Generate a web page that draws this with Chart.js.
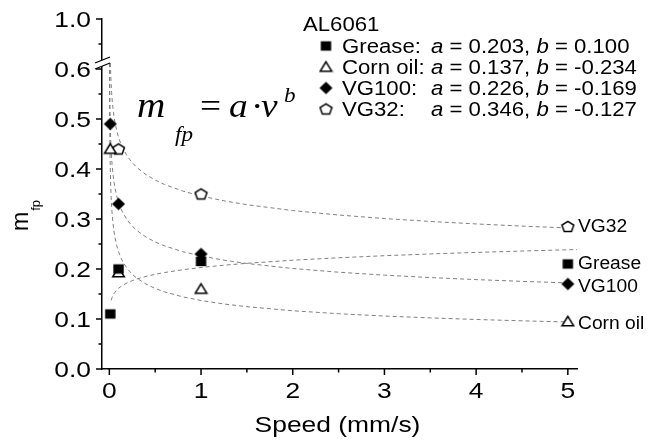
<!DOCTYPE html>
<html>
<head>
<meta charset="utf-8">
<title>AL6061 m_fp vs speed</title>
<script src="https://cdn.jsdelivr.net/npm/chart.js@4.4.1/dist/chart.umd.min.js"></script>
<style>
  html, body { margin: 0; padding: 0; background: #fff; }
  #wrap { width: 659px; height: 440px; }
</style>
</head>
<body>
<div id="wrap"><canvas id="mfpChart" width="659" height="440"></canvas></div>
<script>
// measured friction points, speed in mm/s
const speeds = [0.01, 0.1, 1, 5];
const grease = [0.11, 0.20, 0.215, 0.21];
const cornOil = [0.44, 0.193, 0.16, 0.095];
const vg100 = [0.49, 0.33, 0.23, 0.17];
const vg32Speeds = [0.1, 1, 5];
const vg32 = [0.44, 0.35, 0.285];

// power-law fits m_fp = a * v^b
const seriesNames = ['Grease', 'Corn oil', 'VG100', 'VG32'];
const fitA = [0.203, 0.137, 0.226, 0.346];
const fitB = [0.100, -0.234, -0.169, -0.127];
const fitSpeeds = [0.002, 0.003, 0.004, 0.005, 0.006, 0.008, 0.01, 0.0125, 0.015, 0.02, 0.025,
  0.03, 0.04, 0.05, 0.06, 0.08, 0.1, 0.125, 0.15, 0.2, 0.25, 0.3, 0.4, 0.5, 0.6, 0.8,
  1, 1.25, 1.5, 2, 2.5, 3, 3.5, 4, 4.5, 5];

// axis labels; the top tick sits above the axis break
const yTickLabels = ['0.0', '0.1', '0.2', '0.3', '0.4', '0.5', '0.6', '1.0'];
const xTickLabels = ['0', '1', '2', '3', '4', '5'];

const BREAK_Y = 0.612;
const SX = 1.15; // type is set a little wide
const SANS = "'Liberation Sans', Arial, Helvetica, sans-serif";
const SERIF = "'Liberation Serif', 'Times New Roman', serif";

function fitCurve(a, b, from, to) {
  let start = from;
  if (b < 0) start = Math.max(from, Math.pow(BREAK_Y / a, 1 / b));
  const pts = [{ x: start, y: a * Math.pow(start, b) }];
  fitSpeeds.forEach(v => {
    if (v > start && v < to) pts.push({ x: v, y: a * Math.pow(v, b) });
  });
  pts.push({ x: to, y: a * Math.pow(to, b) });
  return pts;
}

function toPoints(xs, ys) {
  return xs.map((x, i) => ({ x: x, y: ys[i] }));
}

// marker sprites
function makeMarker(kind) {
  const c = document.createElement('canvas');
  c.width = 15; c.height = 15;
  const g = c.getContext('2d');
  const cx = 7.5, cy = 7.5;
  g.lineWidth = 1.5;
  g.strokeStyle = '#000';
  g.fillStyle = '#000';
  g.beginPath();
  if (kind === 'square') {
    g.rect(cx - 5.2, cy - 4.7, 10.4, 9.4);
    g.fill();
    return c;
  }
  if (kind === 'diamond') {
    g.moveTo(cx, cy - 6.3);
    g.lineTo(cx + 6.5, cy);
    g.lineTo(cx, cy + 6.3);
    g.lineTo(cx - 6.5, cy);
    g.closePath();
    g.fill();
    return c;
  }
  if (kind === 'triangle') {
    g.moveTo(cx, cy - 5.2);
    g.lineTo(cx + 5.8, cy + 4.3);
    g.lineTo(cx - 5.8, cy + 4.3);
  } else {
    for (let i = 0; i < 5; i++) {
      const ang = -Math.PI / 2 + i * 2 * Math.PI / 5;
      g.lineTo(cx + 6.2 * Math.cos(ang), cy + 0.4 + 5.6 * Math.sin(ang));
    }
  }
  g.closePath();
  g.fillStyle = '#fff';
  g.fill();
  g.stroke();
  return c;
}

const markers = [makeMarker('square'), makeMarker('triangle'), makeMarker('diamond'), makeMarker('pentagon')];

function text(ctx, str, x, y, size, opt) {
  opt = opt || {};
  ctx.save();
  ctx.font = (opt.italic ? 'italic ' : '') + size + 'px ' + (opt.family || SANS);
  const sx = opt.sx || SX;
  const w = ctx.measureText(str).width * sx;
  let left = x;
  if (opt.align === 'center') left = x - w / 2;
  else if (opt.align === 'right') left = x - w;
  ctx.translate(left, y);
  ctx.scale(sx, 1);
  ctx.textAlign = 'left';
  ctx.textBaseline = 'alphabetic';
  ctx.fillStyle = '#000';
  ctx.fillText(str, 0, 0);
  ctx.restore();
  return w;
}

const decorations = {
  id: 'decorations',
  afterDraw(chart) {
    const { ctx, chartArea: ca } = chart;
    const xs = chart.scales.x, ys = chart.scales.y;
    ctx.save();
    ctx.strokeStyle = '#000';
    ctx.lineWidth = 1.5;

    // y ticks, majors every 0.1
    for (let i = 0; i <= 14; i++) {
      const py = ys.getPixelForValue(i * 0.05);
      const len = i % 2 === 0 ? 6 : 3.5;
      ctx.beginPath();
      ctx.moveTo(ca.left, py);
      ctx.lineTo(ca.left - len, py);
      ctx.stroke();
      if (i % 2 === 0) text(ctx, yTickLabels[i / 2], ca.left - 11, py + 8, 22, { align: 'right', sx: 1.2 });
    }
    // x ticks, majors every 1
    for (let i = 0; i <= 10; i++) {
      const px = xs.getPixelForValue(i * 0.5);
      const len = i % 2 === 0 ? 6 : 3.5;
      ctx.beginPath();
      ctx.moveTo(px, ca.bottom);
      ctx.lineTo(px, ca.bottom + len);
      ctx.stroke();
      if (i % 2 === 0) text(ctx, xTickLabels[i / 2], px, ca.bottom + 29, 22, { align: 'center', sx: 1.2 });
    }

    // axis break
    const b1 = ys.getPixelForValue(0.618), b2 = ys.getPixelForValue(0.606);
    ctx.fillStyle = '#fff';
    ctx.fillRect(ca.left - 2, b1, 4, b2 - b1);
    ctx.lineWidth = 1.3;
    [b1, b2].forEach(by => {
      ctx.beginPath();
      ctx.moveTo(ca.left - 7, by + 3);
      ctx.lineTo(ca.left + 8, by - 3);
      ctx.stroke();
    });

    // axis titles
    text(ctx, 'Speed (mm/s)', (ca.left + ca.right) / 2 - 2, 432, 22, { align: 'center', sx: 1.2 });
    ctx.save();
    ctx.translate(28, 231);
    ctx.rotate(-Math.PI / 2);
    ctx.font = '23px ' + SANS;
    const mw = ctx.measureText('m').width;
    ctx.fillStyle = '#000';
    ctx.fillText('m', 0, 0);
    ctx.font = '13px ' + SANS;
    ctx.fillText('fp', mw + 1, 12);
    ctx.restore();

    // fit equation
    text(ctx, 'm', 137, 117, 35, { italic: true, family: SERIF, sx: 1.12 });
    text(ctx, 'fp', 175, 141, 21, { italic: true, family: SERIF, sx: 1.1 });
    text(ctx, '=', 200, 117, 34, { family: SERIF, sx: 1.1 });
    text(ctx, 'a', 229, 117, 34, { italic: true, family: SERIF, sx: 1.1 });
    text(ctx, '\u00b7', 251, 117, 34, { family: SERIF, sx: 1.1 });
    text(ctx, 'v', 261, 117, 34, { italic: true, family: SERIF, sx: 1.1 });
    text(ctx, 'b', 284, 102, 21, { italic: true, family: SERIF, sx: 1.1 });

    // legend
    const LF = 19.3;
    text(ctx, 'AL6061', 303, 31, LF);
    const rowY = [53, 74, 95, 116];
    const colA = 431;
    seriesNames.forEach((name, i) => {
      const m = markers[i];
      ctx.drawImage(m, 326 - m.width / 2, rowY[i] - 7 - m.height / 2);
      text(ctx, name + ':', 342, rowY[i], LF);
      let x = colA;
      x += text(ctx, 'a', x, rowY[i], LF, { italic: true });
      x += text(ctx, ' = ' + fitA[i].toFixed(3) + ', ', x, rowY[i], LF);
      x += text(ctx, 'b', x, rowY[i], LF, { italic: true });
      text(ctx, ' = ' + fitB[i].toFixed(3), x, rowY[i], LF);
    });

    // series names at the last speed
    const last = [grease[3], cornOil[3], vg100[3], vg32[2]];
    const nudge = [-2, 1, 1, -1];
    seriesNames.forEach((name, i) => {
      const py = ys.getPixelForValue(last[i]) + nudge[i];
      text(ctx, name, ca.right + 1, py + 6.5, 17.5, { sx: 1.1 });
    });
    ctx.restore();
  }
};

const curveStyle = {
  type: 'line',
  borderColor: '#808080',
  borderWidth: 1,
  borderDash: [4, 3],
  pointRadius: 0,
  tension: 0,
  fill: false,
  order: 2
};

function markerSet(label, pts, i) {
  return {
    type: 'scatter',
    label: label,
    data: pts,
    pointStyle: markers[i],
    pointRadius: 6,
    showLine: false,
    order: 1
  };
}

new Chart(document.getElementById('mfpChart'), {
  data: {
    datasets: [
      markerSet('Grease', toPoints(speeds, grease), 0),
      markerSet('Corn oil', toPoints(speeds, cornOil), 1),
      markerSet('VG100', toPoints(speeds, vg100), 2),
      markerSet('VG32', toPoints(vg32Speeds, vg32), 3),
      Object.assign({ label: 'Grease fit', data: fitCurve(fitA[0], fitB[0], 0.02, 5.1) }, curveStyle),
      Object.assign({ label: 'Corn oil fit', data: fitCurve(fitA[1], fitB[1], 0.001, 5) }, curveStyle),
      Object.assign({ label: 'VG100 fit', data: fitCurve(fitA[2], fitB[2], 0.001, 5) }, curveStyle),
      Object.assign({ label: 'VG32 fit', data: fitCurve(fitA[3], fitB[3], 0.001, 5) }, curveStyle)
    ]
  },
  options: {
    responsive: false,
    animation: false,
    events: [],
    layout: { padding: { left: 102, right: 82, top: 19, bottom: 71 } },
    plugins: { legend: { display: false }, tooltip: { enabled: false } },
    scales: {
      x: {
        type: 'linear',
        min: -0.08,
        max: 5.1,
        ticks: { display: false },
        grid: { display: false, drawTicks: false },
        border: { display: true, color: '#000', width: 1.5 }
      },
      y: {
        type: 'linear',
        min: 0,
        max: 0.7,
        ticks: { display: false },
        grid: { display: false, drawTicks: false },
        border: { display: true, color: '#000', width: 1.5 }
      }
    }
  },
  plugins: [decorations]
});
</script>
</body>
</html>
